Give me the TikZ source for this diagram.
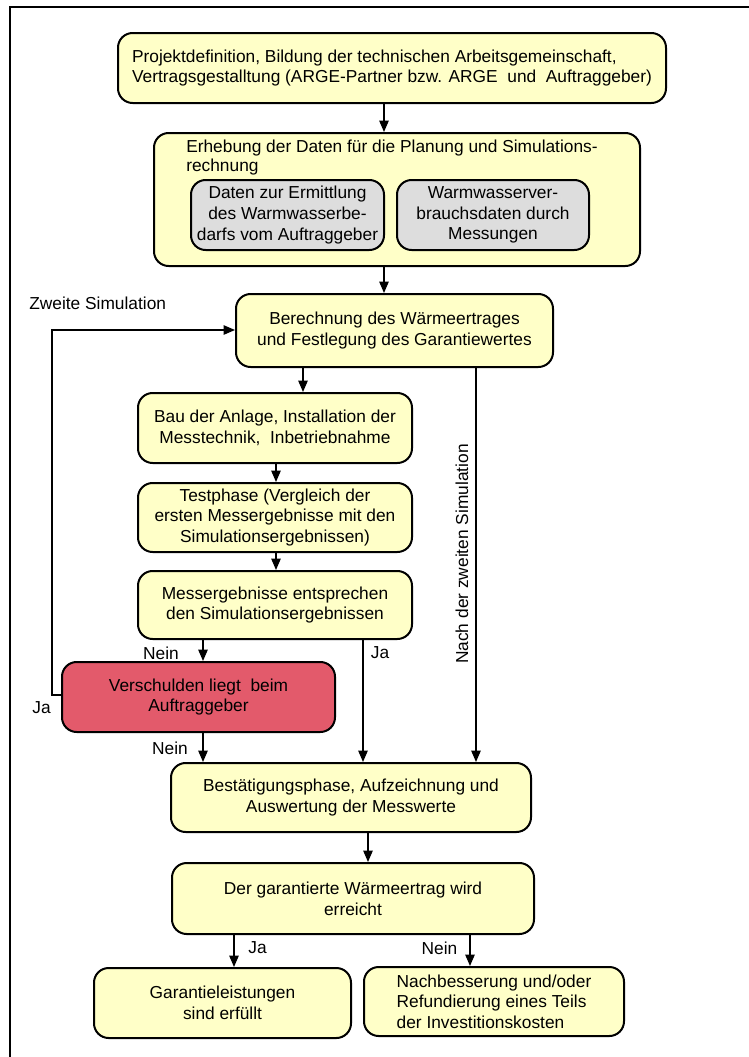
\documentclass[tikz,border=0pt]{standalone}
\usepackage{fontspec}
\setmainfont{Liberation Sans}
\usetikzlibrary{arrows.meta}
\definecolor{boxyellow}{RGB}{255,255,200}
\definecolor{boxgray}{RGB}{221,221,221}
\definecolor{boxred}{RGB}{227,90,107}
\newcommand\fs{\fontsize{13}{15.5}\selectfont}
\newcommand\fsh{\fontsize{13}{14}\selectfont}
\tikzset{
  base/.style={draw=black, line width=1.5pt, rounded corners=11pt, inner sep=0pt, font=\fs, align=center},
  ybox/.style={base, fill=boxyellow},
  gbox/.style={base, fill=boxgray},
  rbox/.style={base, fill=boxred},
  sz/.style 2 args={minimum width=#1*0.75pt, minimum height=#2*0.75pt},
  arr/.style={-{Triangle[length=8.5pt,width=7pt]}, line width=1.1pt},
  lbl/.style={font=\fs, inner sep=0pt},
  frame/.style={line width=1.5pt}
}
\begin{document}
\begin{tikzpicture}[x=0.75pt,y=-0.75pt]
\useasboundingbox (0,0) rectangle (749,1057);
\draw[frame] (10,1057) -- (10,7) -- (749,7);

\node[ybox, sz={548}{70}, align=left] (b1) at (392,68)
  {Projektdefinition, Bildung der technischen Arbeitsgemeinschaft,\\
   Vertragsgestalltung (ARGE-Partner bzw. ARGE~ und~ Auftraggeber)};
\node[ybox, sz={486}{133}] (b2) at (397,199.5) {};
\node[lbl, font=\fsh, align=left, anchor=north west] (b2t) at (186,140)
  {Erhebung der Daten für die Planung und Simulations-\\rechnung};
\node[gbox, sz={193}{70}] (b2a) at (287.5,215)
  {Daten zur Ermittlung\\des Warmwasserbe-\\darfs vom Auftraggeber};
\node[gbox, sz={192}{70}] (b2b) at (493,215)
  {Warmwasserver-\\brauchsdaten durch\\Messungen};
\node[ybox, sz={317}{73}] (b3) at (394.5,330.5)
  {Berechnung des Wärmeertrages\\und Festlegung des Garantiewertes};
\node[ybox, sz={274}{70}] (b4) at (275,428)
  {Bau der Anlage, Installation der\\Messtechnik,~ Inbetriebnahme};
\node[ybox, sz={274}{69}] (b5) at (275,517.5)
  {Testphase (Vergleich der\\ersten Messergebnisse mit den\\Simulationsergebnissen)};
\node[ybox, sz={274}{68}] (b6) at (275,605)
  {Messergebnisse entsprechen\\den Simulationsergebnissen};
\node[rbox, sz={273}{70}] (b7) at (198.5,697)
  {Verschulden liegt~ beim\\Auftraggeber};
\node[ybox, sz={360}{69}] (b8) at (351,797.5)
  {Bestätigungsphase, Aufzeichnung und\\Auswertung der Messwerte};
\node[ybox, sz={362}{71}] (b9) at (353,898.5)
  {Der garantierte Wärmeertrag wird\\erreicht};
\node[ybox, sz={257}{70}] (b10) at (222.5,1003)
  {Garantieleistungen\\sind erfüllt};
\node[ybox, sz={260}{69}, align=left] (b11) at (494,1001.5)
  {Nachbesserung und/oder\\Refundierung eines Teils\\der Investitionskosten};

\coordinate (x384) at (384,0);
\coordinate (x303) at (303,0);
\coordinate (x276) at (276,0);
\coordinate (x203) at (203,0);
\coordinate (x363) at (363,0);
\coordinate (x476) at (476,0);
\coordinate (x368) at (368,0);
\coordinate (x234) at (234,0);
\coordinate (x470) at (470,0);
\coordinate (L1) at (52,695);
\coordinate (L2) at (52,330);

\draw[arr] (b1.south -| x384) -- (b2.north -| x384);
\draw[arr] (b2.south -| x384) -- (b3.north -| x384);
\draw[arr] (b3.south -| x303) -- (b4.north -| x303);
\draw[arr] (b4.south -| x276) -- (b5.north -| x276);
\draw[arr] (b5.south -| x276) -- (b6.north -| x276);
\draw[arr] (b6.south -| x203) -- (b7.north -| x203);
\draw[arr] (b6.south -| x363) -- (b8.north -| x363);
\draw[arr] (b3.south -| x476) -- (b8.north -| x476);
\draw[arr] (b7.south -| x203) -- (b8.north -| x203);
\draw[arr] (b7.west |- L1) -- (L1) -- (L2) -- (b3.west |- L2);
\draw[arr] (b8.south -| x368) -- (b9.north -| x368);
\draw[arr] (b9.south -| x234) -- (b10.north -| x234);
\draw[arr] (b9.south -| x470) -- (b11.north -| x470);

\node[lbl, anchor=west] (tz) at (29,303) {Zweite Simulation};
\node[lbl] (tn1) at (161,653) {Nein};
\node[lbl] (tj1) at (380,653) {Ja};
\node[lbl] (tj2) at (41.5,708) {Ja};
\node[lbl] (tn2) at (170,748) {Nein};
\node[lbl] (tj3) at (257.5,948) {Ja};
\node[lbl] (tn3) at (439.5,948) {Nein};
\node[lbl, rotate=90] (tnach) at (462,554) {Nach der zweiten Simulation};
\end{tikzpicture}
\end{document}
